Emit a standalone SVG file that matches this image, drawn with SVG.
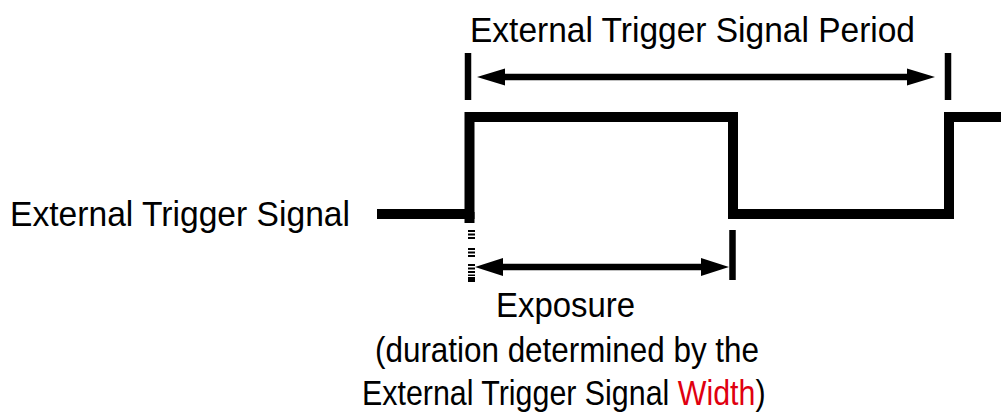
<svg xmlns="http://www.w3.org/2000/svg" width="1001" height="415" viewBox="0 0 1001 415">
<style>
.t{font-family:"Liberation Sans",Arial,sans-serif;font-size:35px;fill:#000}
.red{fill:#e00010}
.sig{fill:none;stroke:#000;stroke-width:10;stroke-linejoin:miter;stroke-linecap:butt}
.tick{stroke:#000;stroke-width:6.5}
.arr{stroke:#000;stroke-width:6.5}
.head{fill:#000}
</style>
<rect width="1001" height="415" fill="#fff"/>
<g id="signal">
<path class="sig" d="M377,214 H469.5 V117 H733 V214 H949 V117 H1001"/>
<line class="sig" x1="469.5" y1="212" x2="469.5" y2="223"/>
</g>
<g id="label-signal">
<text class="t" x="10" y="226" textLength="340" lengthAdjust="spacingAndGlyphs">External Trigger Signal</text>
</g>
<g id="label-period">
<text class="t" x="470" y="42" textLength="445" lengthAdjust="spacingAndGlyphs">External Trigger Signal Period</text>
</g>
<g id="label-exposure">
<text class="t" x="496" y="317" textLength="139" lengthAdjust="spacingAndGlyphs">Exposure</text>
<text class="t" x="375" y="362" textLength="384" lengthAdjust="spacingAndGlyphs">(duration determined by the</text>
<text class="t" transform="translate(362,405) scale(0.868,1)" x="0" y="0">External Trigger Signal <tspan class="red">Width</tspan>)</text>
</g>
<g id="connectors">
<line class="tick" x1="468" y1="53" x2="468" y2="100"/>
<line class="tick" x1="948" y1="53" x2="948" y2="100"/>
<line class="tick" x1="732.5" y1="230" x2="732.5" y2="280"/>
<line class="arr" x1="500" y1="77" x2="912" y2="77"/>
<polygon class="head" points="477,77 505,68.5 505,85.5"/>
<polygon class="head" points="935,77 907,68.5 907,85.5"/>
<line class="arr" x1="498" y1="267" x2="706" y2="267"/>
<polygon class="head" points="475,267 503,258 503,276"/>
<polygon class="head" points="729,267 701,258 701,276"/>
<g stroke="#000" stroke-width="7">
<line x1="471.5" y1="230" x2="471.5" y2="240" stroke-dasharray="2,1.5"/>
<line x1="471.5" y1="248" x2="471.5" y2="257" stroke-dasharray="2,1.5"/>
<line x1="471.5" y1="264" x2="471.5" y2="276" stroke-dasharray="2,1.5"/>
<line x1="471.5" y1="277" x2="471.5" y2="282"/>
</g>
</g>
</svg>
